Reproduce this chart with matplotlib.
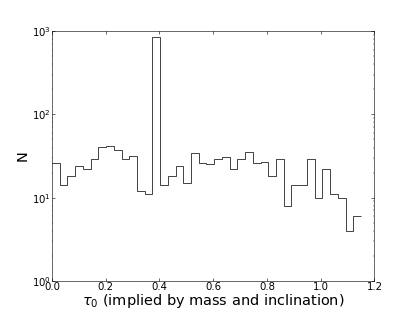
import numpy as np
import matplotlib
matplotlib.use("Agg")
import matplotlib.pyplot as plt

# histogram of tau_0 : 40 bins between 0 and ~1.15
bin_lo = 0.0
bin_hi = 1.15
counts = [26, 14, 18, 24, 22, 29, 41, 42, 37, 29,
          32, 12, 11, 843, 14, 18, 24, 15, 34, 26,
          25, 29, 31, 22, 29, 35, 26, 27, 18, 29,
          8, 14, 14, 29, 10, 22, 11, 10, 4, 6]
edges = np.linspace(bin_lo, bin_hi, len(counts) + 1)

fig = plt.figure(figsize=(8, 6), dpi=52)
ax = fig.add_subplot(111)
fig.subplots_adjust(left=0.125, right=0.9, bottom=0.1, top=0.9)

ax.stairs(counts, edges, baseline=None, color="k", lw=1.0)

ax.set_yscale("log")
ax.set_xlim(0, 1.2)
ax.set_ylim(1, 1000)
ax.set_xticks(np.arange(0, 1.21, 0.2))
ax.set_xticklabels(["%.1f" % v for v in np.arange(0, 1.21, 0.2)])
ax.tick_params(which="both", direction="in", top=True, right=True, labelsize=14)
ax.tick_params(which="major", length=4, pad=2)
ax.tick_params(which="minor", length=2)

ax.set_xlabel(r"$\tau_0$ (implied by mass and inclination)", fontsize=20, labelpad=0)
ax.set_ylabel("N", fontsize=20, labelpad=2)

fig.savefig("out.png", dpi=52)
